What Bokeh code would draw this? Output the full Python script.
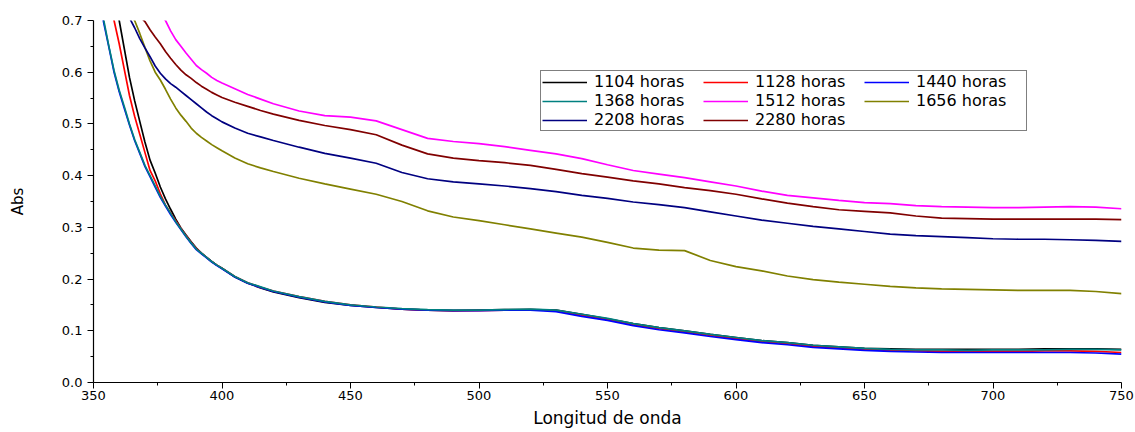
from bokeh.plotting import figure
from bokeh.models import Range1d, FixedTicker, PrintfTickFormatter, Legend, LegendItem
from bokeh.embed import file_html
from bokeh.resources import INLINE

# ---------------- data ----------------
wavelength = [350, 352, 354, 356, 358, 360, 362, 364, 366, 368, 370, 372, 374, 376, 378,
              380, 382, 384, 386, 388, 390, 392, 394, 396, 398, 400, 405, 410, 415, 420,
              430, 440, 450, 460, 470, 480, 490, 500, 510, 520, 530, 540, 550, 560, 570,
              580, 590, 600, 610, 620, 630, 640, 650, 660, 670, 680, 690, 700, 710, 720,
              730, 740, 750]

abs_1104 = [0.92, 0.86, 0.81, 0.77, 0.735, 0.70, 0.645, 0.59, 0.545, 0.505, 0.465, 0.43, 0.405,
            0.378, 0.355, 0.335, 0.316, 0.299, 0.285, 0.272, 0.26, 0.25, 0.242, 0.234, 0.227,
            0.221, 0.204, 0.192, 0.183, 0.175, 0.164, 0.155, 0.149, 0.145, 0.142, 0.140, 0.139,
            0.140, 0.141, 0.141, 0.140, 0.132, 0.123, 0.114, 0.106, 0.100, 0.093, 0.087, 0.081,
            0.077, 0.072, 0.069, 0.066, 0.065, 0.064, 0.064, 0.064, 0.064, 0.064, 0.065, 0.065,
            0.065, 0.064]
abs_1128 = [0.86, 0.80, 0.765, 0.73, 0.70, 0.655, 0.605, 0.555, 0.515, 0.48, 0.445, 0.41, 0.39,
            0.365, 0.343, 0.328, 0.313, 0.298, 0.284, 0.271, 0.259, 0.25, 0.242, 0.234, 0.227,
            0.221, 0.205, 0.193, 0.184, 0.177, 0.166, 0.157, 0.150, 0.146, 0.142, 0.140, 0.139,
            0.139, 0.140, 0.141, 0.139, 0.130, 0.122, 0.112, 0.104, 0.098, 0.091, 0.085, 0.079,
            0.075, 0.070, 0.067, 0.064, 0.062, 0.061, 0.060, 0.060, 0.060, 0.060, 0.061, 0.061,
            0.060, 0.058]
abs_1440 = [0.81, 0.75, 0.695, 0.648, 0.60, 0.562, 0.53, 0.498, 0.468, 0.443, 0.418, 0.398, 0.378,
            0.358, 0.341, 0.325, 0.31, 0.296, 0.282, 0.269, 0.257, 0.249, 0.241, 0.233, 0.226,
            0.22, 0.204, 0.192, 0.184, 0.176, 0.165, 0.156, 0.149, 0.145, 0.142, 0.140, 0.139,
            0.139, 0.140, 0.140, 0.137, 0.128, 0.120, 0.110, 0.102, 0.096, 0.089, 0.083, 0.077,
            0.073, 0.068, 0.065, 0.062, 0.060, 0.059, 0.058, 0.058, 0.058, 0.058, 0.058, 0.058,
            0.057, 0.055]
abs_1368 = [0.82, 0.755, 0.70, 0.65, 0.603, 0.565, 0.533, 0.50, 0.47, 0.445, 0.42, 0.40, 0.38,
            0.36, 0.343, 0.327, 0.311, 0.297, 0.283, 0.27, 0.258, 0.25, 0.242, 0.234, 0.227,
            0.221, 0.205, 0.193, 0.185, 0.177, 0.166, 0.157, 0.150, 0.146, 0.143, 0.141, 0.140,
            0.140, 0.141, 0.142, 0.140, 0.132, 0.124, 0.114, 0.106, 0.100, 0.093, 0.087, 0.081,
            0.077, 0.072, 0.069, 0.066, 0.064, 0.063, 0.063, 0.062, 0.063, 0.063, 0.063, 0.064,
            0.064, 0.063]
abs_1512 = [0.99, 0.96, 0.93, 0.905, 0.88, 0.855, 0.83, 0.81, 0.79, 0.77, 0.75, 0.735, 0.72,
            0.71, 0.70, 0.68, 0.663, 0.65, 0.637, 0.625, 0.613, 0.605, 0.598, 0.59, 0.584,
            0.579, 0.568, 0.557, 0.548, 0.539, 0.525, 0.516, 0.513, 0.506, 0.489, 0.472, 0.466,
            0.462, 0.456, 0.449, 0.442, 0.433, 0.421, 0.410, 0.403, 0.396, 0.388, 0.380, 0.370,
            0.362, 0.357, 0.352, 0.348, 0.346, 0.342, 0.340, 0.339, 0.338, 0.338, 0.339, 0.340,
            0.339, 0.336]
abs_1656 = [0.90, 0.87, 0.84, 0.81, 0.785, 0.76, 0.74, 0.72, 0.70, 0.675, 0.648, 0.622, 0.60,
            0.585, 0.567, 0.548, 0.531, 0.517, 0.505, 0.492, 0.482, 0.474, 0.467, 0.46, 0.454,
            0.448, 0.434, 0.423, 0.415, 0.408, 0.395, 0.384, 0.374, 0.364, 0.35, 0.332, 0.320,
            0.313, 0.305, 0.297, 0.289, 0.281, 0.271, 0.260, 0.256, 0.255, 0.236, 0.224, 0.216,
            0.206, 0.199, 0.194, 0.19, 0.186, 0.183, 0.181, 0.18, 0.179, 0.178, 0.178, 0.178,
            0.176, 0.172]
abs_2208 = [0.86, 0.83, 0.80, 0.775, 0.75, 0.735, 0.72, 0.705, 0.686, 0.665, 0.647, 0.63, 0.612,
            0.598, 0.587, 0.578, 0.571, 0.563, 0.555, 0.547, 0.539, 0.531, 0.523, 0.516, 0.510,
            0.504, 0.492, 0.482, 0.475, 0.468, 0.455, 0.443, 0.434, 0.424, 0.406, 0.394, 0.388,
            0.384, 0.38, 0.375, 0.369, 0.362, 0.356, 0.349, 0.344, 0.338, 0.33, 0.322, 0.314,
            0.308, 0.302, 0.297, 0.292, 0.287, 0.284, 0.282, 0.28, 0.278, 0.277, 0.277, 0.276,
            0.275, 0.273]
abs_2280 = [0.90, 0.87, 0.845, 0.82, 0.795, 0.775, 0.755, 0.737, 0.72, 0.708, 0.698, 0.682, 0.668,
            0.655, 0.64, 0.627, 0.615, 0.604, 0.595, 0.588, 0.58, 0.573, 0.567, 0.561, 0.556,
            0.551, 0.542, 0.534, 0.526, 0.519, 0.507, 0.497, 0.489, 0.479, 0.459, 0.442, 0.434,
            0.429, 0.425, 0.42, 0.412, 0.404, 0.397, 0.39, 0.384, 0.377, 0.371, 0.364, 0.355,
            0.347, 0.34, 0.334, 0.331, 0.328, 0.322, 0.318, 0.317, 0.316, 0.316, 0.316, 0.316,
            0.316, 0.315]

series_labels = ["1104 horas", "1128 horas", "1440 horas", "1368 horas",
                 "1512 horas", "1656 horas", "2208 horas", "2280 horas"]
series_values = [abs_1104, abs_1128, abs_1440, abs_1368, abs_1512, abs_1656, abs_2208, abs_2280]
series_colors = ["#000000", "#FF0000", "#0000FF", "#008080",
                 "#FF00FF", "#808000", "#000080", "#800000"]

x_ticks = [350, 400, 450, 500, 550, 600, 650, 700, 750]
x_minor = [375, 425, 475, 525, 575, 625, 675, 725]
y_ticks = [0.0, 0.1, 0.2, 0.3, 0.4, 0.5, 0.6, 0.7]
y_minor = [0.05, 0.15, 0.25, 0.35, 0.45, 0.55, 0.65]

FONT = "DejaVu Sans"

# ---------------- figure ----------------
p = figure(width=1135, height=432, output_backend="svg", toolbar_location=None,
           x_range=Range1d(350, 750), y_range=Range1d(0, 0.7),
           min_border_left=93, min_border_right=14, min_border_top=20, min_border_bottom=50)
p.outline_line_color = None
p.xgrid.visible = False
p.ygrid.visible = False
p.background_fill_color = "white"
p.border_fill_color = "white"

items = []
for lab, vals, col in zip(series_labels, series_values, series_colors):
    r = p.line(wavelength, vals, line_color=col, line_width=1.7)
    items.append(LegendItem(label=lab, renderers=[r]))

for ax in (p.xaxis[0], p.yaxis[0]):
    ax.axis_line_color = "black"
    ax.axis_line_width = 1.2
    ax.major_tick_line_color = "black"
    ax.minor_tick_line_color = "black"
    ax.major_tick_in = 0
    ax.major_tick_out = 6
    ax.minor_tick_in = 0
    ax.minor_tick_out = 3
    ax.major_label_text_font = FONT
    ax.major_label_text_font_size = "13px"
    ax.major_label_text_color = "black"
    ax.axis_label_text_font = FONT
    ax.axis_label_text_font_style = "normal"
    ax.axis_label_text_color = "black"

p.xaxis.ticker = FixedTicker(ticks=x_ticks, minor_ticks=x_minor)
p.yaxis.ticker = FixedTicker(ticks=y_ticks, minor_ticks=y_minor)
p.xaxis.formatter = PrintfTickFormatter(format="%d")
p.yaxis.formatter = PrintfTickFormatter(format="%.1f")
p.xaxis.axis_label = "Longitud de onda"
p.yaxis.axis_label = "Abs"
p.xaxis.axis_label_text_font_size = "17px"
p.yaxis.axis_label_text_font_size = "15px"
p.xaxis.major_label_standoff = 2
p.yaxis.major_label_standoff = 5
p.xaxis.axis_label_standoff = 5
p.yaxis.axis_label_standoff = 32

legend = Legend(items=items, orientation="horizontal", ncols=3,
                location=(447, 251))
legend.label_text_font = FONT
legend.label_text_font_size = "16px"
legend.label_text_color = "black"
legend.glyph_width = 45
legend.glyph_height = 16
legend.label_height = 16
legend.label_width = 109
legend.label_standoff = 7
legend.spacing = 0
legend.padding = 1
legend.margin = 0
legend.border_line_color = "black"
legend.border_line_width = 1
legend.background_fill_color = "white"
legend.background_fill_alpha = 1.0
p.add_layout(legend)

open("out.html", "w").write(file_html(p, INLINE))
